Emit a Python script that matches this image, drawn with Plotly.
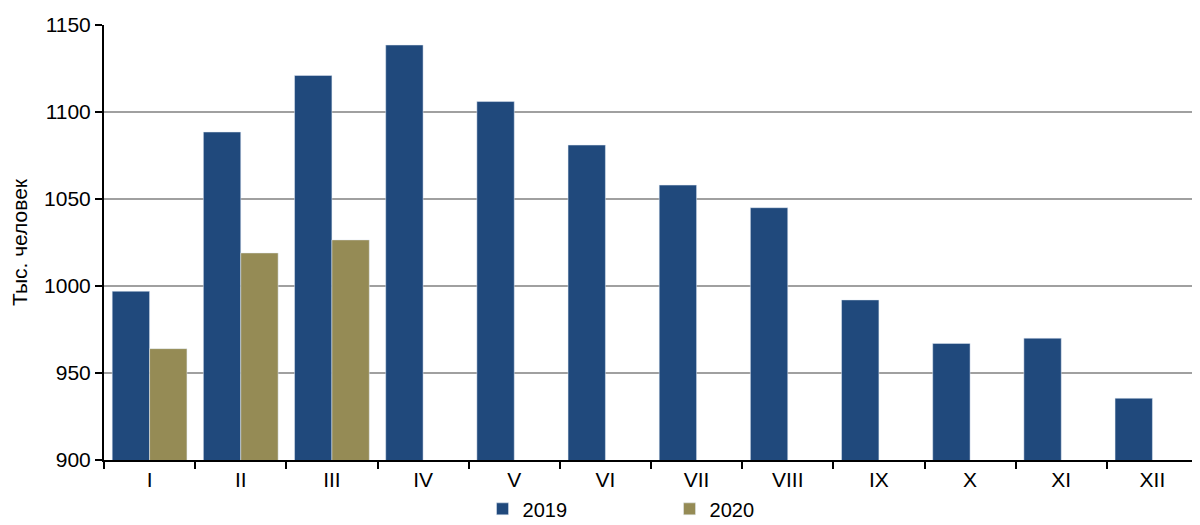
import plotly.graph_objects as go

# Monthly values, thousand people
months = ["I", "II", "III", "IV", "V", "VI", "VII", "VIII", "IX", "X", "XI", "XII"]
vals_2019 = [997, 1088.5, 1121, 1138.5, 1106, 1081, 1058, 1045, 992, 967, 970, 935.5]
vals_2020 = [964, 1019, 1026.5]

fig = go.Figure()
fig.add_trace(go.Bar(x=months, y=vals_2019, name="2019", marker_color="#20497c"))
fig.add_trace(go.Bar(x=months[:len(vals_2020)], y=vals_2020, name="2020", marker_color="#958b55"))

fig.update_layout(
    width=1200, height=525,
    margin=dict(l=96, r=10, t=17, b=73),
    plot_bgcolor="white", paper_bgcolor="white",
    font=dict(family="Liberation Sans, Arial", size=21, color="black"),
    barmode="group", bargap=0.18, bargroupgap=0,
    legend=dict(orientation="h", x=0.346, xanchor="left", yref="container", y=0.046, yanchor="middle",
                font=dict(size=20), entrywidth=142, itemwidth=30, tracegroupgap=0),
    xaxis=dict(showline=True, linecolor="black", linewidth=2, ticks="outside",
               tickson="boundaries", ticklen=7, tickwidth=2, tickcolor="black", automargin=False),
    yaxis=dict(range=[900, 1150], dtick=50, showline=True, linecolor="black", linewidth=2,
               ticks="outside", ticklen=7, tickwidth=2, tickcolor="black",
               gridcolor="#a0a0a0", gridwidth=1.5, automargin=False,
               title=dict(text="Тыс. человек", font=dict(size=21), standoff=20)),
)

fig.write_html("out.html")
